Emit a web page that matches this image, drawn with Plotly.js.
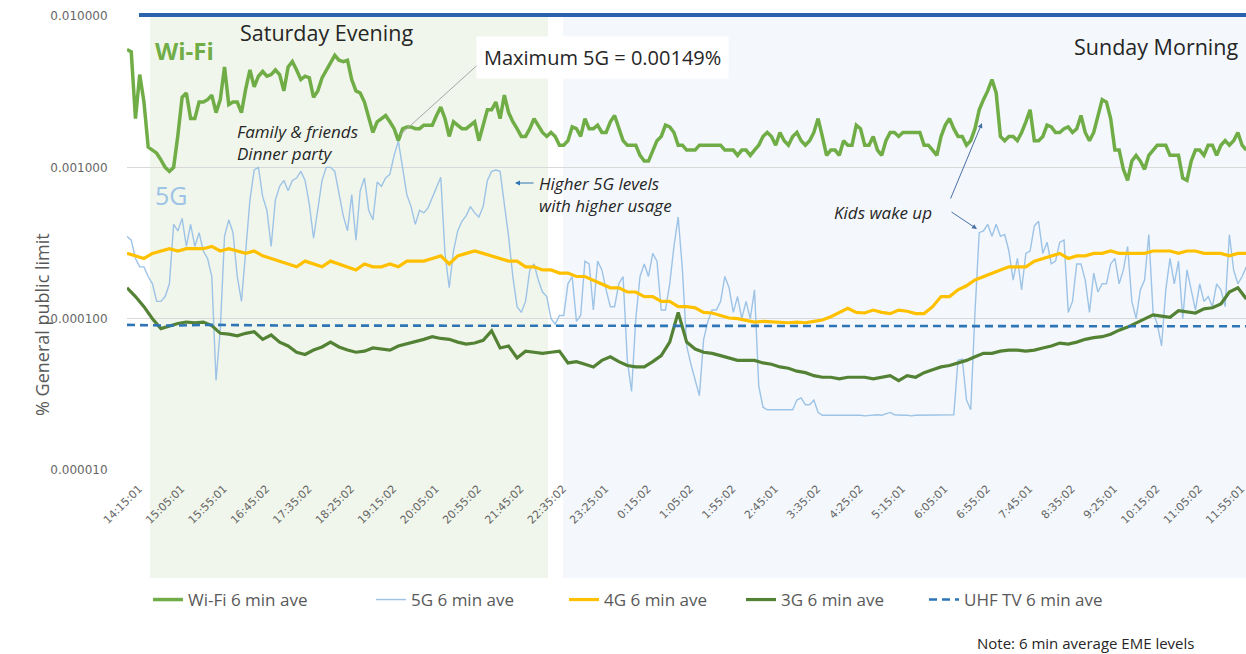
<!DOCTYPE html>
<html>
<head>
<meta charset="utf-8">
<script src="https://cdn.plot.ly/plotly-3.0.1.min.js"></script>
<style>html,body{margin:0;padding:0;background:#fff;}#chart{width:1246px;height:654px;}</style>
</head>
<body>
<div id="chart"></div>
<script>
// Tick labels (every 10th 5-minute sample, i.e. every 50 minutes)
const tickLabels = ["14:15:01","15:05:01","15:55:01","16:45:02","17:35:02","18:25:02","19:15:02","20:05:01","20:55:02","21:45:02","22:35:02","23:25:01","0:15:02","1:05:02","1:55:02","2:45:01","3:35:02","4:25:02","5:15:01","6:05:01","6:55:02","7:45:01","8:35:02","9:25:01","10:15:02","11:05:02","11:55:01"];
const yTickVals = [0.00001, 0.0001, 0.001, 0.01];
const yTickText = ["0.000010", "0.000100", "0.001000", "0.010000"];

// Wi-Fi, 5-minute samples
const wifi = [
0.006,0.0058,0.0021,0.0041,0.0027,0.00136,0.0013,0.00124,0.00112,0.001,
0.00094,0.001,0.00163,0.0029,0.0031,0.0021,0.0021,0.0027,0.0027,0.0028,
0.003,0.0023,0.0028,0.0046,0.0026,0.0027,0.0027,0.0023,0.0033,0.0044,
0.0034,0.004,0.0043,0.004,0.0041,0.0044,0.0041,0.0032,0.0046,0.005,
0.0044,0.0038,0.004,0.0039,0.0029,0.0032,0.0039,0.0044,0.005,0.0055,
0.0051,0.005,0.0051,0.0038,0.0032,0.0031,0.0027,0.0021,0.0017,0.002,
0.0021,0.0022,0.002,0.0018,0.0015,0.0018,0.00185,0.00185,0.0018,0.0018,
0.0019,0.0019,0.0019,0.0022,0.0025,0.0021,0.0016,0.002,0.0019,0.0018,
0.0018,0.0019,0.002,0.0015,0.0019,0.0024,0.0024,0.0027,0.0021,0.003,
0.0023,0.002,0.0018,0.0016,0.0016,0.0018,0.0021,0.0019,0.0017,0.0016,
0.0017,0.0016,0.0014,0.0014,0.0015,0.00185,0.0018,0.0016,0.0021,0.0018,
0.0018,0.0019,0.0017,0.0017,0.002,0.0022,0.0018,0.0015,0.0014,0.0014,
0.0014,0.0012,0.0011,0.0011,0.0013,0.0015,0.0016,0.0019,0.00185,0.0017,
0.0014,0.0014,0.0013,0.0013,0.0013,0.0014,0.0014,0.0014,0.0014,0.0014,
0.0014,0.0013,0.0013,0.0013,0.0012,0.0013,0.0013,0.0012,0.0013,0.0014,
0.0016,0.0017,0.0016,0.0014,0.0017,0.0015,0.0014,0.0016,0.0017,0.0015,
0.0014,0.0015,0.0017,0.0021,0.0016,0.0012,0.0013,0.0013,0.0012,0.0015,
0.0014,0.0014,0.0019,0.0018,0.0014,0.0014,0.0016,0.0013,0.0012,0.0015,
0.0017,0.0017,0.0016,0.0017,0.0017,0.0017,0.0017,0.0017,0.0014,0.0014,
0.0013,0.0012,0.0016,0.0019,0.0021,0.0018,0.0016,0.0016,0.0014,0.0015,
0.0018,0.0024,0.0028,0.0032,0.0038,0.0031,0.0016,0.0015,0.0016,0.0016,
0.0015,0.0017,0.002,0.0024,0.0015,0.0015,0.0016,0.0019,0.00185,0.0017,
0.0017,0.0018,0.00185,0.0017,0.0018,0.0022,0.0017,0.0015,0.0017,0.0022,
0.0028,0.0027,0.0021,0.0013,0.0013,0.00097,0.00082,0.0011,0.0012,0.0011,
0.00097,0.0012,0.0013,0.0014,0.0014,0.0014,0.0012,0.0012,0.0012,0.00085,
0.00082,0.0011,0.0013,0.0013,0.0012,0.0014,0.0014,0.0012,0.0014,0.0015,
0.0014,0.0015,0.0017,0.0014,0.0013
];

// 5G, 5-minute samples
const fiveG = [
0.00035,0.00033,0.00025,0.00022,0.00022,0.00019,0.00017,0.00013,0.00013,0.00014,
0.00017,0.00042,0.00038,0.00046,0.0003,0.00042,0.0003,0.00037,0.00028,0.00025,
0.00019,0.000039,0.000085,0.00035,0.00045,0.00037,0.00019,0.00013,0.00028,0.00061,
0.00096,0.001,0.00064,0.00052,0.0003,0.00061,0.00075,0.00082,0.0007,0.00082,
0.00085,0.00094,0.00082,0.00057,0.00034,0.00054,0.00082,0.001,0.001,0.00094,
0.00066,0.00048,0.00038,0.00066,0.00033,0.0007,0.00085,0.00052,0.00045,0.0008,
0.00075,0.00085,0.0009,0.0012,0.00149,0.001,0.00066,0.00055,0.00042,0.00052,
0.0005,0.00054,0.00063,0.00074,0.00086,0.00027,0.00016,0.00028,0.00038,0.00044,
0.00048,0.00055,0.0005,0.00047,0.00055,0.00082,0.00094,0.00096,0.00094,0.00057,
0.00035,0.00019,0.00012,0.00011,0.00013,0.00021,0.00023,0.00018,0.00015,0.00014,
0.0001,0.000092,0.000105,0.000105,0.00017,0.00019,0.000096,0.000105,0.00024,0.00023,
0.000114,0.00024,0.00021,0.000155,0.00012,0.00012,0.00017,0.00019,0.000053,0.000033,
0.0001,0.00019,0.00023,0.00019,0.00027,0.00024,0.000114,0.000114,0.00017,0.0003,
0.00047,0.00021,0.000066,0.00005,0.000039,0.000031,0.000073,0.000096,0.000114,0.000114,
0.00013,0.00019,0.00016,0.00011,0.00014,0.0001,0.00013,0.0001,0.000155,0.000036,
0.000026,0.000025,0.000025,0.000025,0.000025,0.000025,0.000025,0.000025,0.000029,0.00003,
0.000027,0.000027,0.000029,0.000024,0.000023,0.000023,0.000023,0.000023,0.000023,0.000023,
0.000023,0.000023,0.0000232,0.000023,0.0000228,0.000023,0.000023,0.0000232,0.000023,0.0000235,
0.000024,0.0000232,0.000023,0.000023,0.000023,0.0000228,0.000023,0.000023,0.000023,0.000023,
0.000023,0.000023,0.000023,0.000023,0.000023,0.0000232,0.000053,0.000054,0.000029,0.000025,
0.00011,0.00037,0.00038,0.00042,0.00035,0.00042,0.00035,0.00036,0.00028,0.00018,
0.00025,0.000155,0.00027,0.00028,0.00041,0.00044,0.00027,0.00032,0.00023,0.00024,
0.00032,0.00033,0.00011,0.00013,0.00023,0.00023,0.00018,0.00011,0.0002,0.00015,
0.00017,0.00017,0.00023,0.00025,0.00017,0.00021,0.0003,0.00013,0.0001,0.000155,
0.00018,0.00036,0.00011,0.000092,0.000066,0.000155,0.00025,0.00017,0.00024,0.0001,
0.00021,0.000155,0.000114,0.00017,0.00013,0.00014,0.00012,0.00017,0.000155,0.00012,
0.00036,0.00021,0.00017,0.00019,0.00022
];

// 4G, 10-minute samples
const fourG = [
0.00027,0.00026,0.00025,0.00027,0.00028,0.00029,0.00028,0.00029,0.00029,0.00029,
0.0003,0.00028,0.00029,0.00028,0.00027,0.00028,0.00026,0.00025,0.00024,0.00023,
0.00022,0.00024,0.00023,0.00022,0.00024,0.00023,0.00022,0.00021,0.00023,0.00022,
0.00022,0.00023,0.00022,0.00024,0.00024,0.00024,0.00025,0.00026,0.00023,0.00026,
0.00027,0.00028,0.00027,0.00026,0.00025,0.00024,0.00024,0.00022,0.00022,0.00021,
0.00021,0.0002,0.0002,0.00019,0.00019,0.00018,0.00017,0.00016,0.00016,0.00015,
0.00015,0.00014,0.00014,0.00013,0.00013,0.00012,0.00012,0.000118,0.00011,0.000109,
0.000105,0.000101,0.0001,0.000097,0.000095,0.000096,0.000095,0.000094,0.000094,0.000095,
0.000094,0.000096,0.000098,0.000103,0.00011,0.000117,0.00011,0.000109,0.000114,0.00011,
0.000108,0.000114,0.000112,0.000108,0.000108,0.00012,0.00014,0.00014,0.000155,0.000165,
0.00018,0.00019,0.0002,0.00021,0.00022,0.00022,0.00022,0.00024,0.00025,0.00026,
0.00027,0.00025,0.00026,0.00026,0.00027,0.00027,0.00028,0.00027,0.00027,0.00027,
0.00027,0.00028,0.00028,0.00028,0.00027,0.00028,0.00028,0.00027,0.00027,0.00027,
0.00026,0.00027,0.00027
];

// 3G, 10-minute samples
const threeG = [
0.00016,0.00014,0.00012,0.0001,0.000086,0.00009,0.000093,0.000095,0.000094,0.000095,
0.00009,0.00008,0.000079,0.000077,0.00008,0.000082,0.000073,0.000078,0.00007,0.000066,
0.00006,0.000058,0.000062,0.000065,0.00007,0.000065,0.000062,0.00006,0.000061,0.000064,
0.000063,0.000062,0.000066,0.000068,0.00007,0.000073,0.000076,0.000074,0.000073,0.00007,
0.000068,0.000069,0.000072,0.000083,0.000064,0.000066,0.000055,0.000061,0.00006,0.000059,
0.00006,0.000061,0.000051,0.000052,0.00005,0.000048,0.000053,0.000056,0.000052,0.000049,
0.000048,0.000048,0.000052,0.000057,0.00007,0.00011,0.00007,0.000063,0.00006,0.000059,
0.000057,0.000055,0.000053,0.000053,0.000053,0.000051,0.00005,0.000048,0.000047,0.000045,
0.000044,0.000042,0.000041,0.000041,0.00004,0.000041,0.000041,0.000041,0.00004,0.000041,
0.000042,0.000039,0.000042,0.000041,0.000044,0.000046,0.000048,0.000049,0.000051,0.000053,
0.000056,0.000059,0.000059,0.000061,0.000062,0.000062,0.000061,0.000062,0.000064,0.000066,
0.000069,0.000068,0.00007,0.000073,0.000075,0.000076,0.000079,0.000084,0.000088,0.000094,
0.0001,0.000106,0.000104,0.000102,0.000113,0.000111,0.000109,0.000116,0.000118,0.000125,
0.00015,0.00016,0.000135
];

// UHF TV, 50-minute samples
const uhf = [
0.000091,0.00009,0.000091,0.00009,0.00009,0.00009,0.00009,0.00009,0.00009,0.00009,
0.00009,0.00009,0.00009,0.000089,0.000089,0.00009,0.00009,0.00009,0.00009,0.00009,
0.000089,0.000089,0.00009,0.00009,0.00009,0.00009,0.000089,0.000089
];

const STEP_WIFI = 5, STEP_5G = 5, STEP_4G = 10, STEP_3G = 10, STEP_UHF = 50, TICK_STEP = 50;
const idx = (arr, step) => arr.map((_, i) => i * step);

const fontMain = "Open Sans, Lato, sans-serif";
const traces = [
  {x: idx(wifi, STEP_WIFI), y: wifi, name: "Wi-Fi 6 min ave", mode: "lines", line: {color: "#70ad47", width: 3.5}, legend: "legend"},
  {x: idx(fiveG, STEP_5G), y: fiveG, name: "5G 6 min ave", mode: "lines", line: {color: "#9dc3e6", width: 1.4}, legend: "legend2"},
  {x: idx(fourG, STEP_4G), y: fourG, name: "4G 6 min ave", mode: "lines", line: {color: "#ffc000", width: 3.2}, legend: "legend3"},
  {x: idx(threeG, STEP_3G), y: threeG, name: "3G 6 min ave", mode: "lines", line: {color: "#548235", width: 3.2}, legend: "legend4"},
  {x: idx(uhf, STEP_UHF), y: uhf, name: "UHF TV 6 min ave", mode: "lines", line: {color: "#2e75b6", width: 2.6, dash: "8px,5px"}, legend: "legend5"}
];

const L = 127, T = 16, PW = 1119, PH = 454;
const px = v => (v - L) / PW;       // pixel -> paper x
const py = v => (T + PH - v) / PH;  // pixel -> paper y

const legendAt = xpix => ({orientation: "h", x: px(xpix), y: py(600), xanchor: "left", yanchor: "middle",
  font: {family: fontMain, size: 17, color: "#595959"}, bgcolor: "rgba(0,0,0,0)", borderwidth: 0});

const layout = {
  width: 1246, height: 654,
  margin: {l: L, r: 0, t: T, b: 654 - T - PH, pad: 0},
  paper_bgcolor: "#ffffff", plot_bgcolor: "rgba(0,0,0,0)",
  font: {family: fontMain, color: "#595959"},
  hovermode: false,
  showlegend: true,
  legend: legendAt(148),
  legend2: legendAt(371),
  legend3: legendAt(564),
  legend4: legendAt(741),
  legend5: legendAt(924),
  xaxis: {
    range: [0, 1319.6], tickmode: "array",
    tickvals: tickLabels.map((_, i) => i * TICK_STEP), ticktext: tickLabels,
    tickangle: -45, tickfont: {family: "DejaVu Sans", size: 11, color: "#666666"},
    ticklabelshift: 12, ticklabeloverflow: "allow",
    showgrid: false, zeroline: false, showline: false,
    ticks: "outside", ticklen: 7, tickcolor: "rgba(0,0,0,0)"
  },
  yaxis: {
    type: "log", range: [-5, -2], tickmode: "array",
    tickvals: yTickVals, ticktext: yTickText,
    tickfont: {family: "DejaVu Sans", size: 12, color: "#666666"},
    showgrid: true, gridcolor: "#d9d9d9", gridwidth: 1, zeroline: false, showline: false,
    ticks: "outside", ticklen: 16, tickcolor: "rgba(0,0,0,0)"
  },
  shapes: [
    {type: "rect", xref: "paper", yref: "paper", x0: px(150), x1: px(548), y0: py(578), y1: 1, fillcolor: "#f1f6ec", line: {width: 0}, layer: "below"},
    {type: "rect", xref: "paper", yref: "paper", x0: px(563), x1: 1, y0: py(578), y1: 1, fillcolor: "#f4f8fc", line: {width: 0}, layer: "below"},
    {type: "line", xref: "paper", yref: "paper", x0: px(139), x1: 1, y0: py(15), y1: py(15), line: {color: "#2a62ad", width: 4}},
    {type: "line", xref: "paper", yref: "paper", x0: px(483), y0: py(60), x1: px(400), y1: py(135), line: {color: "#a6a6a6", width: 1}}
  ],
  annotations: [
    {xref: "paper", yref: "paper", x: px(42), y: py(325), text: "% General public limit", textangle: -90, showarrow: false,
     font: {family: fontMain, size: 18, color: "#595959"}, xanchor: "center", yanchor: "middle"},
    {xref: "paper", yref: "paper", x: px(238), y: py(33), text: "Saturday Evening", showarrow: false, xanchor: "left", yanchor: "middle",
     font: {family: fontMain, size: 21.5, color: "#262626"}},
    {xref: "paper", yref: "paper", x: px(1240), y: py(47), text: "Sunday Morning", showarrow: false, xanchor: "right", yanchor: "middle",
     font: {family: fontMain, size: 21.5, color: "#262626"}},
    {xref: "paper", yref: "paper", x: px(153), y: py(50), text: "<b>Wi-Fi</b>", showarrow: false, xanchor: "left", yanchor: "middle",
     font: {family: fontMain, size: 24, color: "#70ad47"}},
    {xref: "paper", yref: "paper", x: px(153), y: py(195), text: "5G", showarrow: false, xanchor: "left", yanchor: "middle",
     font: {family: fontMain, size: 25, color: "#9dc3e6"}},
    {xref: "paper", yref: "paper", x: px(235), y: py(142), text: "<i>Family &amp; friends</i><br><i>Dinner party</i>", showarrow: false,
     xanchor: "left", yanchor: "middle", align: "left", font: {family: fontMain, size: 17, color: "#262626"}},
    {xref: "paper", yref: "paper", x: px(476), y: py(57), text: "Maximum 5G = 0.00149%", showarrow: false, xanchor: "left", yanchor: "middle",
     bgcolor: "#ffffff", borderpad: 7, font: {family: fontMain, size: 20, color: "#262626"}},
    {xref: "paper", yref: "paper", x: px(537), y: py(194), text: "<i>Higher 5G levels</i><br><i>with higher usage</i>", showarrow: false,
     xanchor: "left", yanchor: "middle", align: "left", font: {family: fontMain, size: 17, color: "#262626"}},
    {xref: "paper", yref: "paper", x: px(515), y: py(183), ax: 20, ay: 0, text: "", showarrow: true, arrowhead: 2, arrowsize: 1, arrowwidth: 1, arrowcolor: "#2e75b6"},
    {xref: "paper", yref: "paper", x: px(832), y: py(212), text: "<i>Kids wake up</i>", showarrow: false, xanchor: "left", yanchor: "middle",
     font: {family: fontMain, size: 17, color: "#262626"}},
    {xref: "paper", yref: "paper", x: px(982), y: py(123), ax: -32, ay: 77, text: "", showarrow: true, arrowhead: 2, arrowsize: 1, arrowwidth: 1, arrowcolor: "#4a6fa5"},
    {xref: "paper", yref: "paper", x: px(977), y: py(229), ax: -27, ay: -18, text: "", showarrow: true, arrowhead: 2, arrowsize: 1, arrowwidth: 1, arrowcolor: "#4a6fa5"},
    {xref: "paper", yref: "paper", x: px(975), y: py(643), text: "Note: 6 min average EME levels", showarrow: false, xanchor: "left", yanchor: "middle",
     font: {family: fontMain, size: 15, color: "#262626"}}
  ]
};

Plotly.newPlot("chart", traces, layout, {displayModeBar: false, staticPlot: true});
</script>
</body>
</html>
